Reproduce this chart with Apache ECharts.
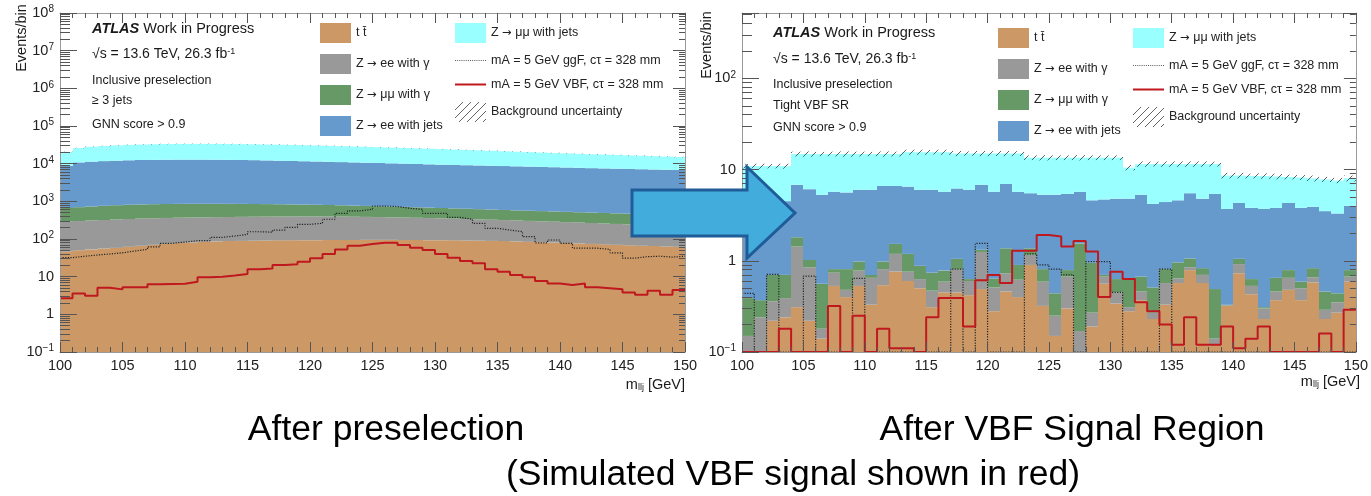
<!DOCTYPE html>
<html><head><meta charset="utf-8">
<script src="https://cdn.jsdelivr.net/npm/echarts@6.0.0/dist/echarts.min.js"></script>
<style>html,body{margin:0;padding:0;background:#fff}#c{width:1371px;height:496px}</style>
</head><body><div id="c"></div>
<script>
// ---------------- data ----------------
const binEdges = Array.from({length: 51}, (_, i) => 100 + i); // m_llj bin edges [GeV]
const xTicks = [100, 105, 110, 115, 120, 125, 130, 135, 140, 145, 150];

// Left panel: inclusive preselection, >=3 jets, GNN > 0.9
const ttbarL = [46,50,53,56,58,62,66,70,74,78, 81,84,86,88,89,90,91,92,92,93, 93,94,94,94,95,95,95,94,94,93, 93,92,91,90,89,88,86,84,82,80, 78,76,74,72,70,68,66,65,63,62];
const zeeGammaL = [244,250,257,264,272,278,282,285,288,290, 291,292,294,296,298,300,301,302,303,303, 303,301,299,296,291,287,282,278,272,267, 260,254,248,242,236,230,224,218,213,208, 203,197,192,186,181,175,170,164,159,153];
const zmmGammaL = [375,400,420,440,460,470,482,485,488,487, 488,484,480,474,468,460,453,444,435,424, 414,403,392,380,369,358,348,338,329,320, 312,304,296,288,280,272,265,260,255,250, 245,241,236,233,229,227,224,221,220,219];
const zeeJetsL = [8035,10100,10570,10940,11210,11490,11670,11760,11850,11945, 11940,11940,11840,11742,11645,11550,11355,11162,10970,10780, 10590,10402,10215,10030,9845,9660,9475,9290,9105,8920, 8735,8600,8465,8330,8195,8060,7925,7788,7650,7512, 7374,7236,7098,6989,6880,6770,6660,6550,6458,6366];
const zmmJetsL = [11800,15200,16700,17800,18500,19200,19700,20200,20500,20600, 20700,20700,20700,20600,20500,20300,20100,19900,19600,19300, 18900,18500,18100,17700,17300,16900,16500,16100,15700,15300, 14900,14450,14000,13550,13100,12650,12200,11850,11500,11150, 10800,10450,10200,9920,9640,9360,9080,8800,8500,8200];
const bkgUncL = [300,390,420,440,460,470,480,490,500,500, 500,500,500,500,490,490,490,480,470,460, 460,440,430,430,420,410,400,390,380,370, 370,350,350,340,330,320,310,300,290,290, 280,270,270,260,260,250,240,240,230,230];
const ggfL = [32,35,37.6,40,43,48,53,62,77,83, 90,90,111,120,133,156,152,173,204,245, 261,334,480,560,615,750,726,653,615,480, 480,376,333,261,192,173,156,115,79,94, 77,57,57,53,43,31,34,35,33,35];
const vbfL = [2.66,3.6,3.1,5.1,4.6,5.2,5.2,6.3,6.4,6.5, 7.3,9.6,10,10.7,11.8,15.7,16.5,20.4,21.5,25, 30.7,39.8,53,66,74,80,80,69,59,51, 40,32,26,22.6,15.7,13.6,11,9.6,7.7,6.6, 6.0,6.6,5.2,4.9,4.6,3.8,3.3,4.2,3.3,4.4];

// Right panel: tight VBF signal region
const ttbarR = [0,0,0.22,0.24,0.31,0.22,0.14,0.53,0.40,0.53, 0.33,0.54,0.76,0.60,0.50,0.31,0.45,0.45,0.42,0.49, 0.28,0.46,0.40,0.90,0.32,0.15,0.30,0,0.19,0.56, 0.34,0.28,0.37,0.23,0.33,0.57,0.79,0.57,0.12,0.32, 0.73,0.43,0.23,0.37,0.48,0.37,0.58,0.23,0.27,0.59];
const zeeGammaR = [0.15,0.24,0.14,0.15,1.12,0.63,0.04,0.21,0.08,0.25, 0.32,0.27,0.43,0.16,0.13,0.16,0.14,0.36,0.18,0.76, 0.23,0.27,0.22,0.26,0.27,0.10,0.37,0.17,0.08,0.11, 0.11,0.03,0.09,0.04,0.24,0.07,0.06,0.13,0.02,0.005, 0.19,0.10,0.07,0.09,0.17,0.13,0.08,0.06,0.08,0.08];
const zmmGammaR = [0.24,0.13,0.34,0.31,0.38,0.17,0.38,0.07,0.33,0.20, 0.05,0.17,0.34,0.43,0.25,0.27,0.19,0.24,0.03,0.07, 0.13,0.64,0.28,0.21,0.22,0.19,0.12,1.38,0.68,0.03, 0.18,0.31,0.21,0.24,0.24,0.32,0.21,0.13,0.35,0.005, 0.13,0.10,0.01,0.19,0.14,0.09,0.17,0.17,0.09,0.12];
const zeeJetsR = [4.11,4.13,3.8,3.8,4.99,5.08,4.74,4.89,4.79,5.02, 5.3,5.62,5.07,5.31,5.12,5.26,4.92,5.15,5.37,5.48, 5.06,5.58,4.8,4.13,4.49,4.86,4.61,4.15,3.65,4.0, 4.17,4.18,4.63,3.69,3.59,3.64,4.44,3.97,4.91,3.37, 3.25,3.17,3.39,3.15,3.51,3.21,3.07,3.04,2.86,3.21];
const zmmJetsR = [6.4,6.4,6.4,6.4,8.0,8.7,9.5,9.1,9.2,8.8, 8.8,8.2,8.2,9.0,9.5,9.5,9.8,8.8,9.0,8.2, 9.3,8.05,9.3,8.0,8.2,8.2,8.1,7.8,8.9,8.8, 8.7,5.7,6.2,7.3,7.1,6.9,6.0,6.7,6.1,4.9, 4.3,4.7,4.8,4.6,4.0,4.4,4.1,4.3,4.3,4.0];
const bkgUncR = [0.6,0.7,0.6,0.7,0.9,1.0,0.8,0.9,1.0,0.9, 0.8,1.0,0.9,1.0,1.0,0.9,1.0,1.0,0.8,1.0, 0.9,1.0,0.9,0.8,0.9,0.8,0.8,0.9,0.8,0.8, 0.8,0.7,0.8,0.7,0.8,0.8,0.8,0.8,0.7,0.6, 0.6,0.5,0.6,0.6,0.5,0.5,0.6,0.5,0.5,0.6];
const ggfR = [0.44,0,0.71,0,0,0.68,0,0,0,0.64, 0,0,0,0,0,0,0,0.81,0,1.55, 0,0,0,1.19,0.90,0.81,0.70,0,0.98,0.98, 0.45,0,0,0,0.81,0,0,0,0,0, 0,0,0,0,0,0,0,0,0,0];
const vbfR = [0,0,0,0.18,0,0,0,0.32,0,0.25, 0,0.18,0.11,0.11,0,0.24,0.39,0.39,0.19,0.61, 0.70,0.57,1.29,1.29,1.92,1.84,1.43,1.65,1.26,0.40, 0.76,0.63,0.35,0.28,0.20,0.12,0.24,0.12,0.12,0.19, 0.11,0.14,0.19,0,0,0,0,0.16,0,0.29];

const bkgNames = ['t t\u0304', 'Z \u2192 ee with \u03b3', 'Z \u2192 \u03bc\u03bc with \u03b3', 'Z \u2192 ee with jets', 'Z \u2192 \u03bc\u03bc with jets'];
const ggfName = 'mA = 5 GeV ggF, c\u03c4 = 328 mm';
const vbfName = 'mA = 5 GeV VBF, c\u03c4 = 328 mm';
const uncName = 'Background uncertainty';
const bkgColors = ['#cc9966', '#999999', '#669966', '#6699cc', '#99ffff'];

// ---------------- helpers ----------------
const FONT = '"Liberation Sans", Arial, Helvetica, sans-serif';
const nBins = binEdges.length - 1;
const Y = [{min: 0.1, max: 1e8}, {min: 0.1, max: 520}];

function stackTables(comps) {
  const out = comps.map(() => []);
  const tot = [];
  for (let i = 0; i < nBins; i++) {
    let s = 0;
    comps.forEach((c, j) => { const lo = s; s += c[i]; out[j].push([binEdges[i], binEdges[i + 1], lo, s]); });
    tot.push(s);
  }
  return {layers: out, total: tot};
}
function stepData(vals, yMin) {
  const d = vals.map((v, i) => [binEdges[i], Math.max(v, yMin)]);
  d.push([binEdges[nBins], Math.max(vals[nBins - 1], yMin)]);
  return d;
}
function makeHatch() {
  const n = 8;
  const c = document.createElement('canvas'); c.width = n; c.height = n;
  const ctx = c.getContext('2d'); ctx.strokeStyle = 'rgba(70,70,70,0.85)'; ctx.lineWidth = 1;
  ctx.beginPath(); ctx.moveTo(0, n); ctx.lineTo(n, 0); ctx.moveTo(-1, 1); ctx.lineTo(1, -1); ctx.moveTo(n - 1, n + 1); ctx.lineTo(n + 1, n - 1); ctx.stroke();
  return c;
}
const hatch = {image: makeHatch(), repeat: 'repeat'};

function rectRender(yMin, fillOverride) {
  return function (params, api) {
    const x0 = api.value(0), x1 = api.value(1);
    let lo = api.value(2), hi = api.value(3);
    if (!(hi > yMin)) return null;
    lo = Math.max(lo, yMin);
    const a = api.coord([x0, hi]), b = api.coord([x1, lo]);
    const L = Math.round(a[0]), R = Math.round(b[0]);
    const style = fillOverride ? {fill: fillOverride, stroke: null} : api.style({stroke: null});
    return {type: 'rect', shape: {x: L, y: a[1], width: R - L, height: b[1] - a[1]}, style: style};
  };
}

function minorValues(yMin, yMax) {
  const v = [];
  for (let e = -1; e <= 8; e++) for (let m = 2; m <= 9; m++) { const x = m * Math.pow(10, e); if (x > yMin && x < yMax) v.push(x); }
  return v;
}
function logLabel(v) {
  const l = Math.log10(v), e = Math.round(l);
  if (Math.abs(l - e) > 1e-6) return '';
  if (e === 0) return '1';
  if (e === 1) return '10';
  return '10{sup|' + (e < 0 ? '\u2212' + (-e) : e) + '}';
}

const TICK = '#555', LINE = '#9a9a9a';
function xAxesFor(g) {
  const base = {gridIndex: g, type: 'value', min: 100, max: 150, interval: 5, z: 10, splitLine: {show: false},
    axisLine: {show: true, onZero: false, lineStyle: {color: LINE, width: 1}},
    axisTick: {show: true, inside: true, length: 10, lineStyle: {color: TICK}},
    minorTick: {show: true, splitNumber: 5, length: 5, lineStyle: {color: TICK}}};
  return [
    Object.assign({}, base, {position: 'bottom', axisLabel: {show: true, margin: 6, fontSize: 14.5, color: '#222', fontFamily: FONT}}),
    Object.assign({}, base, {position: 'top', axisLabel: {show: false}})
  ];
}
function yAxesFor(g) {
  const r = Y[g];
  const base = {gridIndex: g, type: 'log', logBase: 10, min: r.min, max: r.max, z: 10, splitLine: {show: false}, minorTick: {show: false}};
  return [
    Object.assign({}, base, {position: 'left', axisLine: {show: true, onZero: false, lineStyle: {color: LINE}},
      axisTick: {show: true, inside: true, length: 17, lineStyle: {color: TICK}},
      axisLabel: {show: true, margin: 6, fontSize: 14.5, color: '#222', fontFamily: FONT, lineHeight: 17, formatter: logLabel,
        rich: {sup: {fontSize: 10, fontFamily: FONT, color: '#222', verticalAlign: 'top', lineHeight: 10}}}}),
    Object.assign({}, base, {position: 'left', axisLine: {show: false}, axisLabel: {show: false},
      axisTick: {show: true, inside: true, length: 10, customValues: minorValues(r.min, r.max), lineStyle: {color: TICK}}}),
    Object.assign({}, base, {position: 'right', axisLine: {show: true, onZero: false, lineStyle: {color: LINE}}, axisLabel: {show: false},
      axisTick: {show: true, inside: true, length: 12, lineStyle: {color: TICK}}}),
    Object.assign({}, base, {position: 'right', axisLine: {show: false}, axisLabel: {show: false},
      axisTick: {show: true, inside: true, length: 6, customValues: minorValues(r.min, r.max), lineStyle: {color: TICK}}})
  ];
}

function panelSeries(g, comps, unc, ggf, vbf) {
  const yMin = Y[g].min;
  const xi = g * 2, yi = g * 4;
  const st = stackTables(comps);
  const s = [];
  st.layers.forEach((tab, j) => {
    s.push({type: 'custom', name: bkgNames[j], xAxisIndex: xi, yAxisIndex: yi, data: tab, encode: {x: [0, 1], y: [2, 3]},
      renderItem: rectRender(yMin), itemStyle: {color: bkgColors[j]}, z: 2, silent: true, clip: true});
  });
  const uncTab = st.total.map((t, i) => [binEdges[i], binEdges[i + 1], t - unc[i], t + unc[i]]);
  s.push({type: 'custom', name: uncName, xAxisIndex: xi, yAxisIndex: yi, data: uncTab, encode: {x: [0, 1], y: [2, 3]},
    renderItem: rectRender(yMin, hatch), itemStyle: {color: hatch}, z: 3, silent: true, clip: true});
  s.push({type: 'line', name: ggfName, xAxisIndex: xi, yAxisIndex: yi, data: stepData(ggf, yMin), step: 'end', symbol: 'none',
    color: '#222', itemStyle: {color: '#222'}, lineStyle: {color: '#222', width: 1.2, type: [1.2, 1.4]}, z: 5, silent: true});
  s.push({type: 'line', name: vbfName, xAxisIndex: xi, yAxisIndex: yi, data: stepData(vbf, yMin), step: 'end', symbol: 'none',
    color: '#c0181f', itemStyle: {color: '#c0181f'}, lineStyle: {color: '#c0181f', width: 2}, z: 6, silent: true});
  return s;
}

function dottedIcon(w) {
  let p = '';
  for (let x = 0; x < w; x += 2.2) p += 'M' + x.toFixed(1) + ',0h1v1h-1z';
  return 'path://' + p;
}
const legTxt = {fontSize: 12.5, color: '#222', fontFamily: FONT,
  rich: {ar: {fontFamily: '"DejaVu Sans"', fontSize: 11.5, color: '#222'}}};
function legendsAt(x1, x2, top) {
  const common = {orient: 'vertical', top: top, itemWidth: 31, itemHeight: 20, itemGap: 11, padding: 0, selectedMode: false,
    textStyle: legTxt, formatter: n => n.replace('\u2192', '{ar|\u2192}')};
  return [
    Object.assign({}, common, {left: x1, icon: 'rect', data: bkgNames.slice(0, 4)}),
    Object.assign({}, common, {left: x2, data: [
      {name: bkgNames[4], icon: 'rect'},
      {name: ggfName, icon: dottedIcon(31), itemStyle: {color: '#555'}},
      {name: vbfName, icon: 'path://M0,0h31v2h-31z', itemStyle: {color: '#c0181f'}},
      {name: uncName, icon: 'rect'}]})
  ];
}

function txt(x, y, text, size, extra) {
  return {type: 'text', x: x, y: y, z: 50, silent: true,
    style: Object.assign({text: text, fontSize: size, fontFamily: FONT, fill: '#1a1a1a', textAlign: 'left', textVerticalAlign: 'middle'}, extra || {})};
}
const richAtlas = {a: {fontWeight: 'bold', fontStyle: 'italic', fontSize: 14.5, fontFamily: FONT, fill: '#1a1a1a'}};
const richLumi = {s: {fontSize: 9, fontFamily: FONT, fill: '#1a1a1a', verticalAlign: 'top', lineHeight: 9}};
const richM = {s: {fontSize: 9, fontFamily: FONT, fill: '#1a1a1a', verticalAlign: 'bottom', lineHeight: 9}};

const graphics = [
  // left panel labels
  txt(22, 38, 'Events/bin', 14.5, {textAlign: 'center'}),
  txt(92, 29, '{a|ATLAS} Work in Progress', 14.5, {rich: richAtlas}),
  txt(92, 54, '\u221As = 13.6 TeV, 26.3 fb{s|-1}', 14, {rich: richLumi}),
  txt(92, 81, 'Inclusive preselection', 12.5),
  txt(92, 101, '\u2265 3 jets', 12.5),
  txt(92, 125, 'GNN score > 0.9', 12.5),
  txt(685, 385, 'm{s|llj} [GeV]', 14.5, {textAlign: 'right', rich: richM}),
  // right panel labels
  txt(707, 45, 'Events/bin', 14.5, {textAlign: 'center'}),
  txt(773, 33, '{a|ATLAS} Work in Progress', 14.5, {rich: richAtlas}),
  txt(773, 59, '\u221As = 13.6 TeV, 26.3 fb{s|-1}', 14, {rich: richLumi}),
  txt(773, 85, 'Inclusive preselection', 12.5),
  txt(773, 106, 'Tight VBF SR', 12.5),
  txt(773, 128, 'GNN score > 0.9', 12.5),
  txt(1360, 382, 'm{s|llj} [GeV]', 14.5, {textAlign: 'right', rich: richM}),
  // captions
  txt(386, 430, 'After preselection', 35.5, {textAlign: 'center', fill: '#000'}),
  txt(1072, 430, 'After VBF Signal Region', 35.5, {textAlign: 'center', fill: '#000'}),
  txt(793, 475, '(Simulated VBF signal shown in red)', 35.5, {textAlign: 'center', fill: '#000'}),
  // arrow
  {type: 'polygon', z: 100, silent: true,
    shape: {points: [[632, 190], [747, 190], [747, 167], [795, 213], [747, 258], [747, 236], [632, 236]]},
    style: {fill: '#42acdd', stroke: '#1f5c98', lineWidth: 3}}
];
graphics[0].rotation = Math.PI / 2;
graphics[7].rotation = Math.PI / 2;

const chart = echarts.init(document.getElementById('c'), null, {renderer: 'canvas'});
chart.setOption({
  animation: false,
  backgroundColor: '#fff',
  grid: [
    {left: 60, top: 13, width: 625, height: 339, containLabel: false},
    {left: 742, top: 13, width: 618, height: 339, containLabel: false}
  ],
  xAxis: [].concat(xAxesFor(0), xAxesFor(1)),
  yAxis: [].concat(yAxesFor(0), yAxesFor(1)),
  legend: [].concat(legendsAt(320, 455, 23), legendsAt(998, 1133, 28)),
  series: [].concat(
    panelSeries(0, [ttbarL, zeeGammaL, zmmGammaL, zeeJetsL, zmmJetsL], bkgUncL, ggfL, vbfL),
    panelSeries(1, [ttbarR, zeeGammaR, zmmGammaR, zeeJetsR, zmmJetsR], bkgUncR, ggfR, vbfR)
  ),
  graphic: graphics
});
</script></body></html>
